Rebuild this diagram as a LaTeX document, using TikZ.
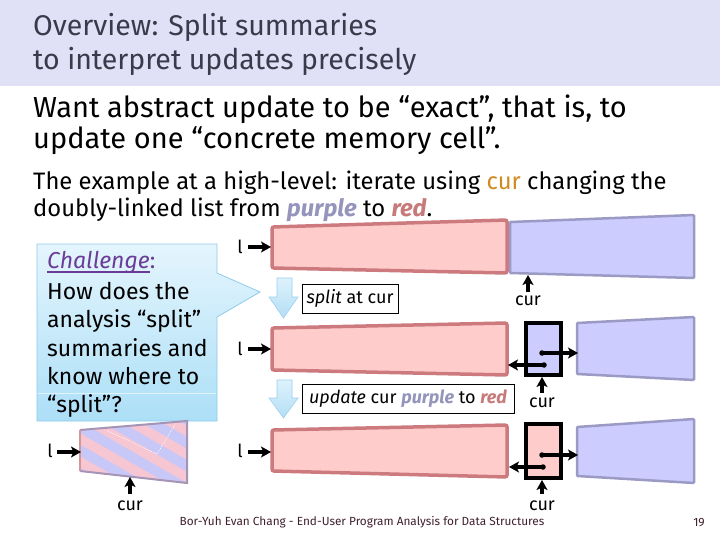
\documentclass[tikz,border=0pt]{standalone}
\usepackage{fontspec}
\setmainfont{Fira Sans}
\usetikzlibrary{arrows.meta,calc}
\definecolor{titlebg}{HTML}{E0E0F6}
\definecolor{titletext}{HTML}{3A3A4A}
\definecolor{redfill}{HTML}{FFCCCC}
\definecolor{redline}{HTML}{CC7A7E}
\definecolor{purpfill}{HTML}{CCCCFF}
\definecolor{purpline}{HTML}{9A9AC4}
\definecolor{curorange}{HTML}{D08A20}
\definecolor{purptext}{HTML}{9494BC}
\definecolor{redtext}{HTML}{C87A7A}
\definecolor{calltop}{HTML}{E4F5FD}
\definecolor{callbot}{HTML}{ACDFF7}
\definecolor{callline}{HTML}{8FCBEA}
\definecolor{chal}{HTML}{6A3C98}
\definecolor{arrowtop}{HTML}{DDF2FC}
\definecolor{arrowbot}{HTML}{B4DEF5}
\definecolor{arrowline}{HTML}{9CCFEE}
\definecolor{stripepink}{HTML}{F6C6D2}
\definecolor{stripelav}{HTML}{C8C8F8}
\definecolor{footer}{HTML}{402030}
\begin{document}
\begin{tikzpicture}[x=1pt,y=-1pt,
  lbl/.style={font=\fontsize{18}{20}\selectfont, inner sep=0pt, anchor=base},
  txt/.style={inner sep=0pt, anchor=base west},
  ptr/.style={line width=3.2pt, -{Stealth[length=10pt,width=11pt,inset=2.5pt]}},
  redbox/.style={fill=redfill, draw=redline, line width=3.5pt, rounded corners=2pt},
  purpbox/.style={fill=purpfill, draw=purpline, line width=2.5pt, rounded corners=1pt},
  cellbox/.style={draw=black, line width=3.4pt},
  opbox/.style={draw=black, line width=0.8pt, fill=white, inner sep=0pt, minimum height=29pt, font=\fontsize{18}{20}\selectfont},
  downarr/.style={draw=arrowline, line width=0.6pt, top color=arrowtop, bottom color=arrowbot},
  dotp/.style={circle, fill=black, inner sep=0pt, minimum size=5.5pt}]
\useasboundingbox (0,0) rectangle (720,540);
\fill[white] (0,0) rectangle (720,540);
% title bar
\fill[titlebg] (0,0) rectangle (720,86);
\node[txt, text=titletext, font=\fontsize{28.5}{34}\selectfont] (t1) at (33,36) {Overview: Split summaries};
\node[txt, text=titletext, font=\fontsize{28.5}{34}\selectfont] (t2) at (33,70) {to interpret updates precisely};
% body text
\node[txt, font=\fontsize{29}{33}\selectfont] (b1) at (33,118) {Want abstract update to be “exact”, that is, to};
\node[txt, font=\fontsize{29}{33}\selectfont] (b2) at (33,149) {update one “concrete memory cell”.};
\node[txt, font=\fontsize{23.8}{27}\selectfont] (s1) at (33,190) {The example at a high-level: iterate using \textcolor{curorange}{cur} changing the};
\node[txt, font=\fontsize{23.8}{27}\selectfont] (s2) at (33,217) {doubly-linked list from \textcolor{purptext}{\textbf{\textit{purple}}} to \textcolor{redtext}{\textbf{\textit{red}}}.};

% callout
\path[draw=callline, line width=0.8pt, top color=calltop, bottom color=callbot]
  (37,244) -- (217,244) -- (217,273) -- (260,292) -- (217,317) -- (217,421) -- (37,421) -- cycle;
\draw[white, opacity=0.6, line width=0.6pt] (38,393) -- (216,393);
\node[txt, font=\fontsize{23}{29}\selectfont, text=chal] (ch0) at (47,268) {\textit{Challenge}:};
\draw[chal, line width=1.4pt] (47,272) -- (150,272);
\node[txt, font=\fontsize{23}{29}\selectfont] (ch1) at (47,299) {How does the};
\node[txt, font=\fontsize{23}{29}\selectfont] (ch2) at (47,327) {analysis “split”};
\node[txt, font=\fontsize{23}{29}\selectfont] (ch3) at (47,356) {summaries and};
\node[txt, font=\fontsize{23}{29}\selectfont] (ch4) at (47,384) {know where to};
\node[txt, font=\fontsize{23}{29}\selectfont] (ch5) at (47,412) {“split”?};

% left summary trapezoid
\begin{scope}
  \clip (80,430) -- (187,421) -- (187,483) -- (80,471) -- cycle;
  \fill[stripepink] (70,410) rectangle (200,495);
  \begin{scope}[shift={(133,452)}, rotate=-30]
    \foreach \i in {-6,...,6} {
      \fill[stripelav] (-120,20*\i) rectangle (120,20*\i+10);
    }
  \end{scope}
  \draw[white, line width=0.7pt, dash pattern=on 1pt off 1.5pt] (108,431) -- (157,454) -- (176,423);
\end{scope}
\draw[draw=purpline!80!redline, line width=2pt] (80,430) -- (187,421) -- (187,483) -- (80,471);
\draw[draw=redline!80, line width=2pt] (80,471) -- (80,430);
\node[lbl] (l0) at (50,457) {l};
\coordinate (t0w) at (81,452);
\draw[ptr] (57,452) -- (t0w);
\node[lbl] (c0) at (130,510) {cur};
\coordinate (t0b) at (130,477);
\draw[ptr] (130,494) -- (t0b);

% row 1
\draw[redbox] (272,227) -- (507,220) -- (507,273) -- (272,268) -- cycle;
\draw[purpbox] (510,222) -- (694,215) -- (694,278) -- (510,273) -- cycle;
\node[lbl] (l1) at (240,253) {l};
\coordinate (r1w) at (271,247);
\draw[ptr] (248,247) -- (r1w);
\node[lbl] (c1) at (528,305) {cur};
\coordinate (p1b) at (528,275);
\draw[ptr] (528,292) -- (p1b);

% down arrow 1 + op
\path[downarr] (277,278) -- (292,278) -- (292,297) -- (298,297) -- (283.5,318) -- (269,297) -- (277,297) -- cycle;
\node[opbox, minimum width=96pt] (op1) at (350,298.5) {\textit{split} at cur};

% row 2
\draw[redbox] (272,328) -- (507,323) -- (507,375) -- (272,370) -- cycle;
\draw[purpbox] (577,323) -- (694,317) -- (694,380) -- (577,374) -- cycle;
\draw[cellbox, fill=purpfill] (526,323) rectangle (561,375);
\node[lbl] (l2) at (240,355) {l};
\coordinate (r2w) at (271,349);
\draw[ptr] (248,349) -- (r2w);
\node[dotp] (n2) at (542,353) {};
\node[dotp] (q2) at (544,365) {};
\coordinate (p2w) at (578,353);
\coordinate (r2e) at (508,365);
\draw[ptr] (n2.center) -- (p2w);
\draw[ptr] (q2.center) -- (r2e);
\node[lbl] (c2) at (542,407) {cur};
\coordinate (cell2b) at (542,377);
\draw[ptr] (542,393) -- (cell2b);

% down arrow 2 + op
\path[downarr] (277,380) -- (292,380) -- (292,398) -- (298,398) -- (283.5,418) -- (269,398) -- (277,398) -- cycle;
\node[opbox, minimum width=212pt] (op2) at (408,398.5) {\textit{update} cur \textcolor{purptext}{\textbf{\textit{purple}}} to \textcolor{redtext}{\textbf{\textit{red}}}};

% row 3
\draw[redbox] (272,430) -- (507,425) -- (507,477) -- (272,471) -- cycle;
\draw[purpbox] (577,427) -- (694,419) -- (694,483) -- (577,476) -- cycle;
\draw[cellbox, fill=redfill] (526,424) rectangle (561,478);
\node[lbl] (l3) at (240,457) {l};
\coordinate (r3w) at (271,452);
\draw[ptr] (248,452) -- (r3w);
\node[dotp] (n3) at (542,455) {};
\node[dotp] (q3) at (543,467) {};
\coordinate (p3w) at (578,455);
\coordinate (r3e) at (509,467);
\draw[ptr] (n3.center) -- (p3w);
\draw[ptr] (q3.center) -- (r3e);
\node[lbl] (c3) at (542,510) {cur};
\coordinate (cell3b) at (542,480);
\draw[ptr] (542,494) -- (cell3b);

% footer
\node[inner sep=0pt, anchor=base, text=footer, font=\fontsize{11.8}{13}\selectfont] (foot) at (362,525) {Bor-Yuh Evan Chang - End-User Program Analysis for Data Structures};
\node[inner sep=0pt, anchor=base, text=footer, font=\fontsize{12}{14}\selectfont] (pg) at (699,526) {19};
\end{tikzpicture}
\end{document}
